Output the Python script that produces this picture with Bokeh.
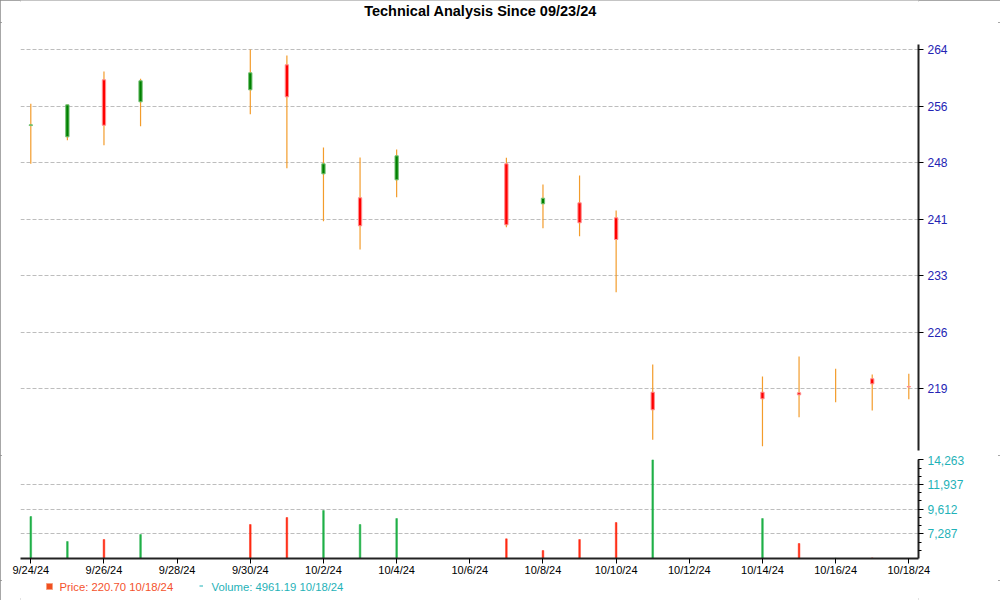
import pandas as pd
from bokeh.plotting import figure
from bokeh.layouts import column
from bokeh.models import Range1d, FixedTicker, NumeralTickFormatter, ColumnDataSource
from bokeh.core.properties import value
from bokeh.embed import file_html
from bokeh.resources import INLINE

# ---------------- data ----------------
dates = ["2024-09-24", "2024-09-25", "2024-09-26", "2024-09-27", "2024-09-30",
         "2024-10-01", "2024-10-02", "2024-10-03", "2024-10-04", "2024-10-07",
         "2024-10-08", "2024-10-09", "2024-10-10", "2024-10-11", "2024-10-14",
         "2024-10-15", "2024-10-16", "2024-10-17", "2024-10-18"]
opens  = [253.95, 252.45, 260.02, 257.10, 258.69, 262.01, 247.54, 244.36, 246.74, 248.87,
          243.56, 243.69, 241.70, 218.55, 218.55, 218.47, 219.95, 220.33, 219.30]
highs  = [256.83, 256.74, 261.12, 260.15, 264.04, 263.25, 251.03, 249.70, 250.77, 249.66,
          246.12, 247.32, 242.67, 222.23, 220.63, 223.29, 221.65, 220.90, 220.99]
lows   = [248.87, 252.00, 251.34, 253.86, 255.45, 248.28, 241.25, 237.49, 244.43, 240.45,
          240.32, 239.26, 231.82, 212.23, 211.38, 215.23, 217.22, 216.12, 217.62]
closes = [254.05, 256.70, 253.99, 259.89, 260.95, 257.76, 248.87, 240.64, 249.93, 240.77,
          244.30, 241.04, 238.82, 216.21, 217.67, 218.20, 219.95, 219.66, 219.25]
volumes = [8918, 6561, 6750, 7221, 8164, 8824, 9483, 8164, 8729, 6816,
           5713, 6750, 8352, 14263, 8729, 6373, 4990, 5020, 4961.19]
volume_dir = ["up", "up", "down", "up", "down", "down", "up", "up", "up", "down",
              "down", "down", "down", "up", "up", "down", "up", "down", "down"]

price_ticks = [219, 226.5, 234, 241.5, 249, 256.5, 264]
price_tick_labels = ["219", "226", "233", "241", "248", "256", "264"]
volume_ticks = [7287, 9612, 11937, 14263]
date_tick_labels = ["9/24/24", "9/26/24", "9/28/24", "9/30/24", "10/2/24", "10/4/24",
                    "10/6/24", "10/8/24", "10/10/24", "10/12/24", "10/14/24",
                    "10/16/24", "10/18/24"]
title_text = "Technical Analysis Since 09/23/24"
last_price_text = "220.70"
last_date_text = "10/18/24"

# ---------------- styling ----------------
FONT = "Liberation Sans"
WICK = "#F39C2B"
UP_FILL, UP_LINE = "#008000", "#74C274"
DN_FILL, DN_LINE = "#FF0000", "#FF9090"
VOL_UP, VOL_DN = "#20B048", "#FF2A12"
GRID = "#BDBDBD"
PRICE_LBL = "#2424B4"
VOL_LBL = "#1FB2B8"
LEG_PRICE = "#F4522D"

start = pd.Timestamp(dates[0])
xs = [(pd.Timestamp(d) - start).days for d in dates]
tick_pos = [(pd.to_datetime(t, format="%m/%d/%y") - start).days for t in date_tick_labels]

body_top = [max(o, c) for o, c in zip(opens, closes)]
body_bot = [min(o, c) for o, c in zip(opens, closes)]
body_fill = [UP_FILL if c > o else (DN_FILL if c < o else WICK) for o, c in zip(opens, closes)]
body_line = [UP_LINE if c > o else (DN_LINE if c < o else WICK) for o, c in zip(opens, closes)]
body_alpha = [1.0 if c != o else 0.0 for o, c in zip(opens, closes)]
vol_col = [VOL_UP if d == "up" else VOL_DN for d in volume_dir]
vol_min = min(volumes)

src = ColumnDataSource(dict(x=xs, o=opens, h=highs, l=lows, c=closes, bt=body_top,
                            bb=body_bot, bf=body_fill, bl=body_line, ba=body_alpha,
                            v=volumes, vc=vol_col))

x_range = Range1d(-0.2816, 24.265)
W = 1000
LEFT, RIGHT = 20, 82   # frame borders shared by all panels


def strip(height):
    # thin panel whose frame is aligned with the chart frames; x in page pixels
    f = figure(width=W, height=height, x_range=Range1d(LEFT, W - RIGHT),
               y_range=Range1d(height, 0), output_backend="svg", toolbar_location=None,
               x_axis_location=None, y_axis_location=None,
               min_border_left=LEFT, min_border_right=RIGHT,
               min_border_top=0, min_border_bottom=0)
    f.outline_line_color = None
    f.grid.visible = False
    return f


# ---------------- title strip ----------------
p0 = strip(22)
p0.text(x=[480], y=[10.5], text=[title_text], text_color="#000000",
        text_font=value(FONT), text_font_size="14.5px", text_font_style="bold",
        text_align="center", text_baseline="middle")

# ---------------- price panel ----------------
p1 = figure(width=W, height=433, x_range=x_range, y_range=Range1d(210.81, 264.71),
            output_backend="svg", toolbar_location=None, x_axis_location=None,
            y_axis_location="right",
            min_border_left=LEFT, min_border_right=RIGHT, min_border_top=22, min_border_bottom=5)
p1.outline_line_color = None

p1.segment(x0="x", y0="l", x1="x", y1="h", source=src, line_color=WICK, line_width=1.2)
p1.vbar(x="x", top="bt", bottom="bb", width=0.09, source=src,
        fill_color="bf", line_color="bl", fill_alpha="ba", line_alpha="ba", line_width=1)

ya = p1.yaxis[0]
ya.ticker = FixedTicker(ticks=price_ticks)
ya.major_label_overrides = dict(zip(price_ticks, price_tick_labels))
ya.axis_line_width = 2
ya.axis_line_color = "#222222"
ya.major_tick_out = 5
ya.major_tick_in = 0
ya.minor_tick_line_color = None
ya.major_label_standoff = 4
ya.major_label_text_font = FONT
ya.major_label_text_font_size = "12px"
ya.major_label_text_color = PRICE_LBL
p1.xgrid.visible = False
p1.ygrid.grid_line_color = GRID
p1.ygrid.grid_line_dash = "4 2"
p1.ygrid.grid_line_width = 1

# ---------------- volume panel ----------------
p2 = figure(width=W, height=125, x_range=x_range, y_range=Range1d(vol_min, 14294),
            output_backend="svg", toolbar_location=None, y_axis_location="right",
            min_border_left=LEFT, min_border_right=RIGHT, min_border_top=4, min_border_bottom=22)
p2.outline_line_color = None
p2.vbar(x="x", top="v", bottom=vol_min, width=0.045, source=src,
        fill_color="vc", line_color="vc", line_width=0.5)

step = (volume_ticks[1] - volume_ticks[0]) / 3
minor = [volume_ticks[0] + k * step for k in range(-2, 10)]
va = p2.yaxis[0]
va.ticker = FixedTicker(ticks=volume_ticks, minor_ticks=minor)
va.formatter = NumeralTickFormatter(format="0,0")
va.axis_line_width = 2
va.axis_line_color = "#222222"
va.major_tick_out = 5
va.major_tick_in = 0
va.minor_tick_out = 3
va.minor_tick_in = 0
va.major_label_standoff = 4
va.major_label_text_font = FONT
va.major_label_text_font_size = "12px"
va.major_label_text_color = VOL_LBL

xa = p2.xaxis[0]
xa.ticker = FixedTicker(ticks=tick_pos)
xa.major_label_overrides = dict(zip(tick_pos, date_tick_labels))
xa.axis_line_width = 2
xa.axis_line_color = "#222222"
xa.major_tick_out = 5
xa.major_tick_in = 0
xa.minor_tick_line_color = None
xa.major_label_standoff = 0
xa.major_label_text_font = FONT
xa.major_label_text_font_size = "11px"
xa.major_label_text_color = "#000000"

p2.xgrid.visible = False
p2.ygrid.ticker = FixedTicker(ticks=volume_ticks[:-1])
p2.ygrid.grid_line_color = GRID
p2.ygrid.grid_line_dash = "4 2"

# ---------------- legend strip ----------------
p3 = strip(20)
p3.scatter(x=[49], y=[6], marker="square", size=6, fill_color="#F05020",
           line_color="#F7A080", line_width=1)
p3.text(x=[59], y=[6.5], text=[f"Price: {last_price_text}  {last_date_text}"],
        text_color=LEG_PRICE, text_font=value(FONT), text_font_size="11.3px",
        text_baseline="middle", text_align="left")
p3.segment(x0=[199], y0=[5.5], x1=[202.5], y1=[5.5], line_color=VOL_LBL, line_width=1)
p3.text(x=[211], y=[6.5], text=[f"Volume: {volumes[-1]:.2f}  {last_date_text}"],
        text_color=VOL_LBL, text_font=value(FONT), text_font_size="11.3px",
        text_baseline="middle", text_align="left")

layout = column(p0, p1, p2, p3, spacing=0,
                styles={"outline": "2px solid #8a8a8a", "outline-offset": "-2px"})
open("out.html", "w").write(file_html(layout, INLINE))
